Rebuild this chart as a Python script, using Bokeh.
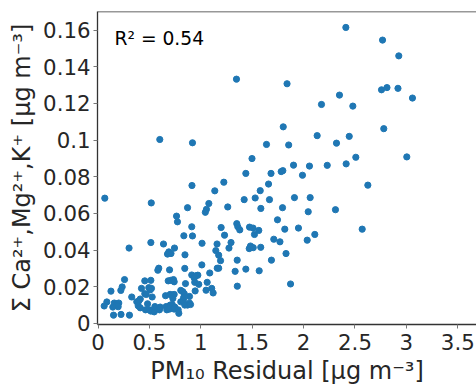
from bokeh.plotting import figure
from bokeh.models import Range1d, FixedTicker, CustomJSTickFormatter, Label, Span
from bokeh.embed import file_html
from bokeh.resources import INLINE

pm10_residual = [
    2.411, 2.768, 2.926, 1.347, 1.839, 2.349, 2.174, 2.479, 2.758, 2.811, 2.918, 3.059,
    1.802, 2.132, 2.444, 2.780, 0.601, 0.919, 1.639, 1.855, 2.320, 1.498, 2.508, 3.004,
    1.438, 1.683, 1.782, 1.798, 1.902, 2.057, 2.230, 2.414, 1.989, 1.224, 0.914, 1.659,
    2.625, 1.136, 1.578, 1.911, 2.064, 0.066, 1.422, 1.529, 1.668, 0.518, 1.078, 1.055,
    1.044, 1.262, 0.871, 1.584, 1.795, 2.045, 2.310, 0.764, 0.773, 1.746, 0.912, 1.198,
    1.350, 1.360, 1.379, 1.474, 1.508, 1.564, 1.817, 1.950, 2.570, 2.109, 2.035, 1.710,
    1.770, 0.835, 0.919, 1.231, 1.522, 0.514, 0.637, 1.012, 1.158, 1.294, 1.274, 1.483,
    1.471, 1.510, 1.583, 0.302, 0.744, 0.689, 0.676, 0.710, 0.846, 1.146, 1.174, 1.829,
    1.192, 1.354, 1.687, 1.010, 0.591, 0.582, 0.696, 0.844, 1.160, 1.174, 1.334, 1.438,
    1.568, 1.087, 0.912, 0.953, 0.971, 0.936, 0.258, 0.455, 0.514, 0.683, 0.708, 0.734,
    0.741, 0.851, 0.941, 0.980, 1.062, 1.355, 1.873, 0.235, 0.222, 0.126, 0.423, 0.494,
    0.520, 0.508, 0.455, 0.469, 0.805, 0.825, 0.839, 0.945, 1.051, 1.106, 1.120, 0.328,
    0.527, 0.657, 0.702, 0.722, 0.741, 0.728, 0.890, 0.411, 0.377, 0.397, 0.086, 0.060,
    0.158, 0.183, 0.202, 0.183, 0.144, 0.196, 0.391, 0.411, 0.462, 0.482, 0.501, 0.514,
    0.533, 0.547, 0.553, 0.598, 0.605, 0.663, 0.669, 0.696, 0.702, 0.722, 0.747, 0.741,
    0.780, 0.786, 0.805, 0.832, 0.832, 0.844, 0.871, 0.890, 0.900, 0.151, 0.224, 0.306,
]

sum_ions = [
    0.1614, 0.1545, 0.1459, 0.1332, 0.1307, 0.1245, 0.1194, 0.1185, 0.1274, 0.1286, 0.1282, 0.1229,
    0.1072, 0.1024, 0.1020, 0.1062, 0.1003, 0.0985, 0.0976, 0.0973, 0.0983, 0.0899, 0.0906, 0.0908,
    0.0818, 0.0818, 0.0828, 0.0833, 0.0863, 0.0858, 0.0862, 0.0870, 0.0808, 0.0770, 0.0752, 0.0760,
    0.0754, 0.0723, 0.0724, 0.0686, 0.0686, 0.0683, 0.0675, 0.0684, 0.0675, 0.0657, 0.0654, 0.0622,
    0.0606, 0.0635, 0.0631, 0.0627, 0.0631, 0.0609, 0.0620, 0.0585, 0.0554, 0.0565, 0.0527, 0.0523,
    0.0544, 0.0527, 0.0510, 0.0525, 0.0520, 0.0507, 0.0514, 0.0520, 0.0514, 0.0485, 0.0454, 0.0459,
    0.0445, 0.0478, 0.0477, 0.0481, 0.0485, 0.0441, 0.0433, 0.0437, 0.0433, 0.0441, 0.0411, 0.0422,
    0.0408, 0.0413, 0.0415, 0.0411, 0.0411, 0.0390, 0.0378, 0.0381, 0.0374, 0.0397, 0.0372, 0.0381,
    0.0342, 0.0345, 0.0345, 0.0319, 0.0301, 0.0290, 0.0292, 0.0300, 0.0301, 0.0301, 0.0284, 0.0296,
    0.0287, 0.0275, 0.0264, 0.0260, 0.0263, 0.0248, 0.0239, 0.0232, 0.0235, 0.0232, 0.0235, 0.0239,
    0.0227, 0.0217, 0.0224, 0.0213, 0.0224, 0.0203, 0.0215, 0.0199, 0.0180, 0.0176, 0.0191, 0.0195,
    0.0191, 0.0183, 0.0162, 0.0158, 0.0180, 0.0173, 0.0162, 0.0177, 0.0181, 0.0191, 0.0166, 0.0144,
    0.0144, 0.0151, 0.0158, 0.0155, 0.0158, 0.0136, 0.0147, 0.0133, 0.0118, 0.0122, 0.0117, 0.0095,
    0.0111, 0.0107, 0.0111, 0.0099, 0.0089, 0.0091, 0.0096, 0.0085, 0.0074, 0.0107, 0.0074, 0.0067,
    0.0070, 0.0063, 0.0092, 0.0074, 0.0089, 0.0092, 0.0074, 0.0078, 0.0100, 0.0103, 0.0089, 0.0078,
    0.0074, 0.0055, 0.0118, 0.0125, 0.0140, 0.0100, 0.0100, 0.0111, 0.0103, 0.0045, 0.0049, 0.0045,
]

x_ticks = [0, 0.5, 1, 1.5, 2, 2.5, 3, 3.5]
y_ticks = [0, 0.02, 0.04, 0.06, 0.08, 0.1, 0.12, 0.14, 0.16]
x_label = "PM\u2081\u2080 Residual [\u00b5g m\u207b\u00b3]"
y_label = "\u03a3 Ca\u00b2\u207a,Mg\u00b2\u207a,K\u207a [\u00b5g m\u207b\u00b3]"
r2_text = "R\u00b2 = 0.54"
r2_pos = (0.16, 0.1555)

assert len(pm10_residual) == len(sum_ions)

FONT = "DejaVu Sans"
TXT = "#262626"
SPINE = "#333333"

p = figure(width=476, height=387, output_backend="svg", toolbar_location=None,
           x_range=Range1d(-0.005, 3.682), y_range=Range1d(-0.0006, 0.1701),
           min_border_left=97, min_border_right=0, min_border_top=11, min_border_bottom=10,
           background_fill_color="white", border_fill_color="white")
p.outline_line_color = None
p.grid.visible = False

p.scatter(pm10_residual, sum_ions, size=6.2, color="#1f77b4", line_color="#1f77b4")

fmt = CustomJSTickFormatter(code="return String(parseFloat(tick.toFixed(4)));")
for ax, ticks in ((p.xaxis[0], x_ticks), (p.yaxis[0], y_ticks)):
    ax.ticker = FixedTicker(ticks=ticks)
    ax.formatter = fmt
    ax.minor_tick_line_color = None
    ax.major_tick_in = 0
    ax.major_tick_out = 4
    ax.major_tick_line_color = "#777777"
    ax.axis_line_color = SPINE
    ax.axis_line_width = 1.3
    ax.major_label_text_font = FONT
    ax.major_label_text_font_size = "21.3px"
    ax.major_label_text_color = TXT
    ax.axis_label_text_font = FONT
    ax.axis_label_text_font_size = "24px"
    ax.axis_label_text_font_style = "normal"
    ax.axis_label_text_color = TXT

p.xaxis.axis_label = x_label
p.yaxis.axis_label = y_label
p.xaxis.major_label_standoff = 5
p.xaxis.axis_label_standoff = 4
p.yaxis.major_label_standoff = 3
p.yaxis.axis_label_standoff = 4

p.add_layout(Span(location=0.1701, dimension="width", line_color=SPINE, line_width=1.3))

p.add_layout(Label(x=r2_pos[0], y=r2_pos[1], text=r2_text, text_font=FONT,
                   text_font_size="18.7px", text_color="black",
                   text_align="left", text_baseline="alphabetic"))

open("out.html", "w").write(file_html(p, INLINE))
